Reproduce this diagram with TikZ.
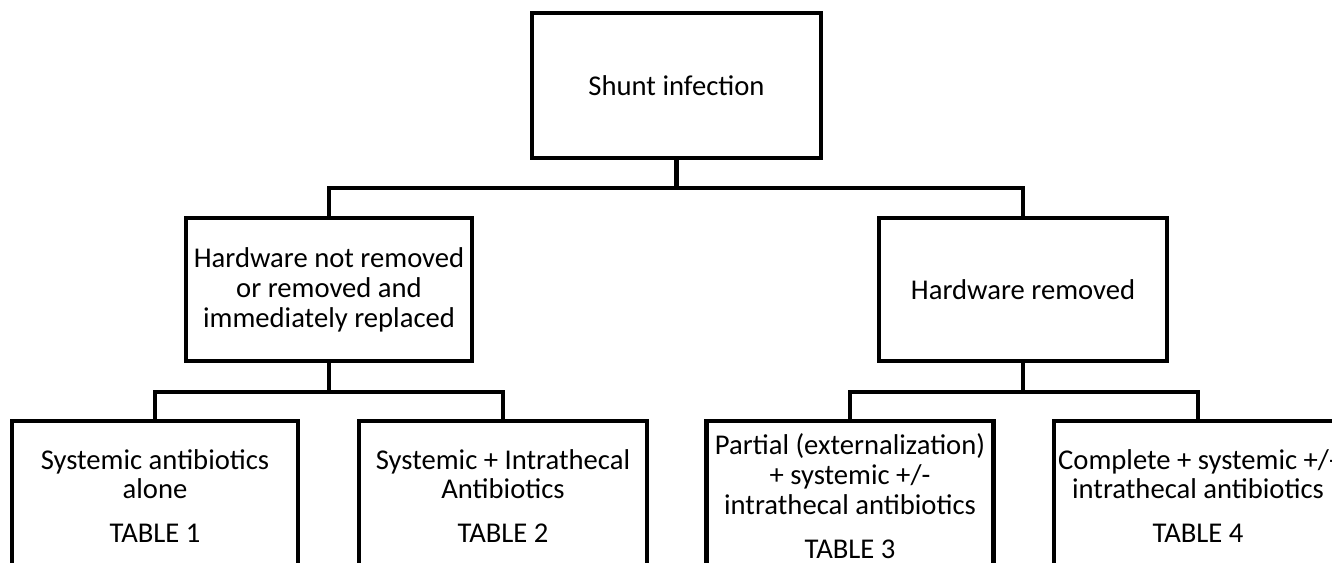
\documentclass[tikz,border=0pt]{standalone}
\usepackage{fontspec}
\setmainfont{Carlito}
\usepackage{tikz}
\usetikzlibrary{positioning,calc}

\begin{document}
\begin{tikzpicture}[
    box/.style={draw, line width=2.5pt, align=center, inner sep=0pt,
                font=\fontsize{16.3}{17}\selectfont},
    link/.style={line width=2.5pt}
  ]
        \clip (0,0) rectangle (26.64,11.26);

        % Top level
        \node[box, minimum width=5.78cm, minimum height=2.9cm] (shunt) at (13.53, 9.55) {Shunt infection};

        % Second level
        \node[box, minimum width=5.72cm, minimum height=2.86cm] (notremoved) at (6.58, 5.47)
            {Hardware not removed\\or removed and\\immediately replaced};
        \node[box, minimum width=5.76cm, minimum height=2.86cm] (removed) at (20.46, 5.47) {Hardware removed};

        % Third level (cut by the page edge)
        \node[box, minimum width=5.72cm, minimum height=3.0cm] (tab1) at (3.10, 1.34)
            {Systemic antibiotics\\alone\\[8pt]TABLE 1};
        \node[box, minimum width=5.76cm, minimum height=3.0cm] (tab2) at (10.06, 1.34)
            {Systemic + Intrathecal\\Antibiotics\\[8pt]TABLE 2};
        \node[box, minimum width=5.74cm, minimum height=3.0cm] (tab3) at (17.00, 1.34)
            {Partial (externalization)\\+ systemic +/-\\intrathecal antibiotics\\[8pt]TABLE 3};
        \node[box, minimum width=5.76cm, minimum height=3.0cm] (tab4) at (23.96, 1.34)
            {Complete + systemic +/-\\intrathecal antibiotics\\[8pt]TABLE 4};

        % Connectors
        \coordinate (splittop) at (shunt.south |- 0,7.5);
        \coordinate (splitleft) at (notremoved.south |- 0,3.42);
        \coordinate (splitright) at (removed.south |- 0,3.42);
        \draw[link] (shunt.south) -- (splittop);
        \draw[link] (notremoved.north) |- (splittop) -| (removed.north);
        \draw[link] (notremoved.south) -- (splitleft);
        \draw[link] (tab1.north) |- (splitleft) -| (tab2.north);
        \draw[link] (removed.south) -- (splitright);
        \draw[link] (tab3.north) |- (splitright) -| (tab4.north);
    \end{tikzpicture}
\end{document}
